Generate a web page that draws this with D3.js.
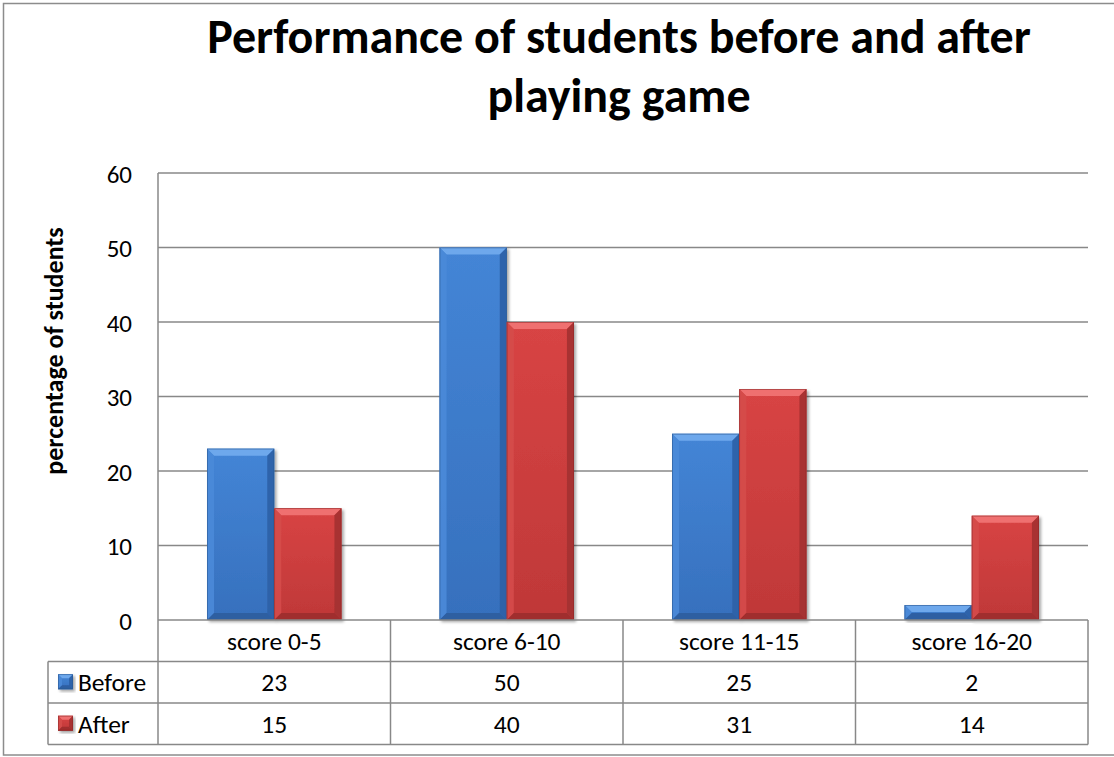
<!DOCTYPE html>
<html>
<head>
<meta charset="utf-8">
<script src="https://cdn.jsdelivr.net/npm/d3@7"></script>
<style>
  html, body { margin: 0; padding: 0; background: #fff; }
  svg { display: block; }
  text { font-family: Carlito, Calibri, Lato, "Open Sans", sans-serif; fill: #000; }
</style>
</head>
<body>
<svg id="chart" width="1114" height="757"></svg>
<script>
// Chart data
const categories = ["score 0-5", "score 6-10", "score 11-15", "score 16-20"];
const seriesNames = ["Before", "After"];
const beforeValues = [23, 50, 25, 2];
const afterValues = [15, 40, 31, 14];
const yTicks = [0, 10, 20, 30, 40, 50, 60];
const titleLines = ["Performance of students before and after", "playing game"];
const yTitle = "percentage of students";

const seriesValues = { Before: beforeValues, After: afterValues };

// Colour sets for the bevelled bars: face, top, left, right, bottom, outline
const palette = {
  Before: { face0: "#4485d6", face1: "#3670bd", top: "#6ea8ec", left: "#4a8ad8", right: "#2d61a6", bottom: "#2b5b9c", stroke: "#2a5590" },
  After:  { face0: "#d84444", face1: "#bf3838", top: "#ef7070", left: "#d54c4b", right: "#a33030", bottom: "#9a2c2c", stroke: "#8e2a2a" }
};

const svg = d3.select("#chart");
const W = 1114, H = 757;
const plot = { left: 158, right: 1088, top: 173, bottom: 620 };
const rowH = 41.5;
const legendLeft = 48;
const gridColor = "#888888";
const tableFont = "25.5px";

const defs = svg.append("defs");
const shadow = defs.append("filter").attr("id", "barShadow")
  .attr("x", "-20%").attr("y", "-20%").attr("width", "140%").attr("height", "140%");
shadow.append("feDropShadow").attr("dx", 2).attr("dy", 2).attr("stdDeviation", 1.6)
  .attr("flood-color", "#000").attr("flood-opacity", 0.35);
seriesNames.forEach(s => {
  const g = defs.append("linearGradient").attr("id", "face-" + s)
    .attr("x1", 0).attr("y1", 0).attr("x2", 0).attr("y2", 1);
  g.append("stop").attr("offset", "0%").attr("stop-color", palette[s].face0);
  g.append("stop").attr("offset", "100%").attr("stop-color", palette[s].face1);
});

// Outer chart border (open on the right, running past the canvas)
svg.append("rect").attr("x", 3.5).attr("y", 3.5).attr("width", W + 20).attr("height", 751.5)
  .attr("fill", "none").attr("stroke", "#8c8c8c").attr("stroke-width", 1.5);

// Title
const title = svg.append("text").attr("text-anchor", "middle")
  .style("font-weight", "bold").style("font-size", "48px");
title.selectAll("tspan").data(titleLines).join("tspan")
  .attr("x", 619).attr("y", (d, i) => 53 + i * 59).text(d => d);

// Scales
const y = d3.scaleLinear().domain([0, 60]).range([plot.bottom, plot.top]);
const x0 = d3.scaleBand().domain(categories).range([plot.left, plot.right]).padding(0);
const x1 = d3.scaleBand().domain(seriesNames).range([0, x0.bandwidth()])
  .paddingInner(0).paddingOuter(0.73);

// Gridlines
svg.append("g").selectAll("line").data(yTicks.filter(t => t > 0)).join("line")
  .attr("x1", plot.left).attr("x2", plot.right)
  .attr("y1", d => y(d)).attr("y2", d => y(d))
  .attr("stroke", gridColor).attr("stroke-width", 1.5);

// Y axis labels
const yAxis = d3.axisLeft(y).tickValues(yTicks).tickSize(0).tickPadding(26);
const yG = svg.append("g").attr("transform", `translate(${plot.left},0)`).call(yAxis);
yG.select(".domain").remove();
yG.selectAll("text").style("font-size", "25px").attr("dy", "0.36em")
  .style("font-family", "Carlito, Calibri, Lato, sans-serif");

// Y axis title
svg.append("text")
  .attr("transform", `translate(63,351) rotate(-90)`)
  .attr("text-anchor", "middle")
  .style("font-weight", "bold").style("font-size", "26px")
  .text(yTitle);

// Bevelled bar drawing
function bevelBar(g, bx, by, bw, bh, col, b) {
  const bb = Math.min(b, bh / 2, bw / 2);
  const gr = g.append("g").attr("filter", "url(#barShadow)");
  gr.append("rect").attr("x", bx).attr("y", by).attr("width", bw).attr("height", bh)
    .attr("fill", col.faceUrl);
  const pts = (arr) => arr.map(p => p.join(",")).join(" ");
  const x2 = bx + bw, y2 = by + bh;
  gr.append("polygon").attr("points", pts([[bx, by], [x2, by], [x2 - bb, by + bb], [bx + bb, by + bb]])).attr("fill", col.top);
  gr.append("polygon").attr("points", pts([[bx, by], [bx + bb, by + bb], [bx + bb, y2 - bb], [bx, y2]])).attr("fill", col.left).attr("opacity", 0.9);
  gr.append("polygon").attr("points", pts([[x2, by], [x2, y2], [x2 - bb, y2 - bb], [x2 - bb, by + bb]])).attr("fill", col.right).attr("opacity", 0.9);
  gr.append("polygon").attr("points", pts([[bx, y2], [bx + bb, y2 - bb], [x2 - bb, y2 - bb], [x2, y2]])).attr("fill", col.bottom).attr("opacity", 0.85);
  gr.append("rect").attr("x", bx + 0.4).attr("y", by + 0.4).attr("width", bw - 0.8).attr("height", bh - 0.8)
    .attr("fill", "none").attr("stroke", col.stroke).attr("stroke-width", 0.8).attr("opacity", 0.7);
}

// Bars
const barsG = svg.append("g");
categories.forEach((c, ci) => {
  seriesNames.forEach(s => {
    const v = seriesValues[s][ci];
    const bx = x0(c) + x1(s);
    const by = y(v);
    bevelBar(barsG, bx, by, x1.bandwidth(), y(0) - by,
      Object.assign({ faceUrl: `url(#face-${s})` }, palette[s]), 7);
  });
});

// Data table
const tableG = svg.append("g");
const rowTop = i => plot.bottom + i * rowH;
const lineAttrs = sel => sel.attr("stroke", gridColor).attr("stroke-width", 1.5).attr("fill", "none");

// horizontal lines
tableG.append("line").attr("x1", plot.left).attr("x2", plot.right).attr("y1", rowTop(0)).attr("y2", rowTop(0)).call(lineAttrs);
[1, 2, 3].forEach(i => {
  tableG.append("line").attr("x1", legendLeft).attr("x2", plot.right)
    .attr("y1", rowTop(i)).attr("y2", rowTop(i)).call(lineAttrs);
});
// vertical lines
tableG.append("line").attr("x1", plot.left).attr("x2", plot.left).attr("y1", plot.top).attr("y2", rowTop(3)).call(lineAttrs);
tableG.append("line").attr("x1", legendLeft).attr("x2", legendLeft).attr("y1", rowTop(1)).attr("y2", rowTop(3)).call(lineAttrs);
categories.forEach(c => {
  const xr = x0(c) + x0.bandwidth();
  tableG.append("line").attr("x1", xr).attr("x2", xr).attr("y1", rowTop(0)).attr("y2", rowTop(3)).call(lineAttrs);
});

// category labels
tableG.selectAll("text.cat").data(categories).join("text").attr("class", "cat")
  .attr("x", d => x0(d) + x0.bandwidth() / 2).attr("y", rowTop(0) + rowH / 2)
  .attr("dy", "0.35em").attr("text-anchor", "middle").style("font-size", tableFont)
  .text(d => d);

// series rows
seriesNames.forEach((s, si) => {
  const rt = rowTop(si + 1);
  const cy = rt + rowH / 2;
  const key = tableG.append("g");
  bevelBar(key, 58, cy - 8, 15, 15,
    Object.assign({ faceUrl: `url(#face-${s})` }, palette[s]), 4);
  tableG.append("text").attr("x", 78).attr("y", cy).attr("dy", "0.35em")
    .style("font-size", tableFont).text(s);
  tableG.selectAll("text.v" + s).data(seriesValues[s]).join("text").attr("class", "v" + s)
    .attr("x", (d, i) => x0(categories[i]) + x0.bandwidth() / 2).attr("y", cy)
    .attr("dy", "0.35em").attr("text-anchor", "middle").style("font-size", tableFont)
    .text(d => d);
});
</script>
</body>
</html>
